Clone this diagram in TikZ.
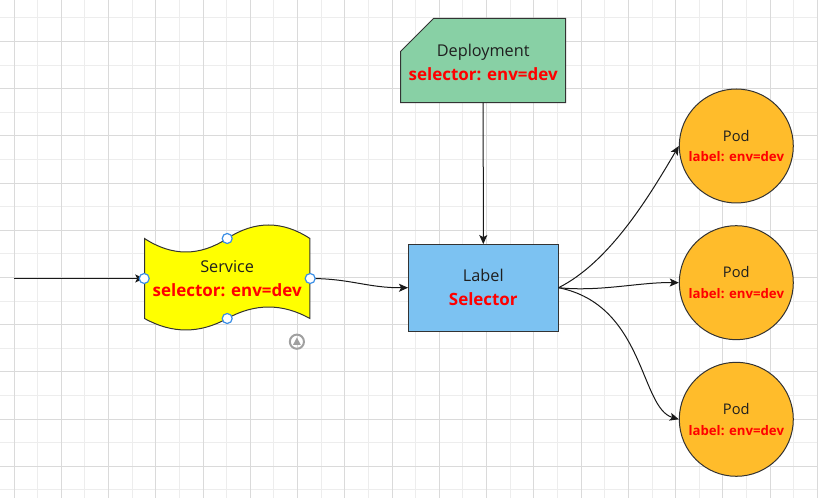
\documentclass[tikz,border=0pt]{standalone}
\usepackage{fontspec}
\setmainfont{Open Sans}
\usetikzlibrary{arrows.meta,calc}
\definecolor{gridminor}{HTML}{EDEDED}
\definecolor{gridmajor}{HTML}{DADADA}
\definecolor{outl}{HTML}{333333}
\definecolor{txtdark}{HTML}{1F1F1F}
\definecolor{depfill}{HTML}{88D0A5}
\definecolor{labfill}{HTML}{7CC2F2}
\definecolor{podfill}{HTML}{FFBC2B}
\definecolor{svcfill}{HTML}{FFFF00}
\definecolor{redtxt}{HTML}{FF0000}
\definecolor{handle}{HTML}{3A8EE6}
\definecolor{icongrey}{HTML}{A0A0A0}
\pgfdeclarelayer{gridlayer}
\pgfdeclarelayer{shapelayer}
\pgfsetlayers{gridlayer,shapelayer,main}
\newcommand{\redbold}[2]{\textcolor{redtxt}{\fontsize{#1}{18}\selectfont\bfseries #2}}
\begin{document}
\begin{tikzpicture}[x=0.75pt,y=-0.75pt,
  txt/.style={align=center,inner sep=0pt,text=txtdark},
  mainfont/.style={font=\fontsize{12.2}{18}\selectfont},
  podfont/.style={font=\fontsize{11}{15.5}\selectfont},
  boxshape/.style={draw=outl,line width=0.75pt},
  podshape/.style={circle,draw=outl,line width=0.75pt,fill=podfill,minimum size=85.5pt,inner sep=0pt,align=center,text=txtdark,podfont},
  arr/.style={draw=black!90,line width=0.75pt,-{Stealth[length=6.8pt,width=6pt,inset=1.6pt]}},
  hnd/.style={circle,draw=handle,fill=white,line width=0.9pt,minimum size=7.5pt,inner sep=0pt}
]
\useasboundingbox (0,0) rectangle (818,498);
\begin{pgfonlayer}{gridlayer}
  \fill[white] (0,0) rectangle (818,498);
  \foreach \i in {0,...,34}{
    \pgfmathsetmacro\xx{14+23.63*\i}
    \draw[gridminor,line width=0.75pt] (\xx,0) -- (\xx,498);
  }
  \foreach \j in {0,...,20}{
    \pgfmathsetmacro\yy{18+23.6*\j}
    \draw[gridminor,line width=0.75pt] (0,\yy) -- (818,\yy);
  }
  \foreach \i in {0,2,...,34}{
    \pgfmathsetmacro\xx{14+23.63*\i}
    \draw[gridmajor,line width=0.75pt] (\xx,0) -- (\xx,498);
  }
  \foreach \j in {1,3,...,19}{
    \pgfmathsetmacro\yy{18+23.6*\j}
    \draw[gridmajor,line width=0.75pt] (0,\yy) -- (818,\yy);
  }
\end{pgfonlayer}

% Deployment
\node[txt,mainfont,minimum width=123.75pt,minimum height=63.3pt] (dep) at (483.2,62)
  {Deployment\\\redbold{12.7}{selector: env=dev}};
% Label Selector
\node[txt,mainfont,minimum width=112.5pt,minimum height=65pt] (lab) at (483.3,287.7)
  {Label\\\redbold{12.7}{Selector}};
% Service
\node[txt,mainfont,minimum width=124.05pt,minimum height=60pt] (svc) at (227.2,278.5)
  {Service\\\redbold{12.7}{selector: env=dev}};
% Pods
\node[podshape] (pod1) at (736.3,146) {Pod\\\redbold{9.9}{label: env=dev}};
\node[podshape] (pod2) at (736.3,282.7) {Pod\\\redbold{9.9}{label: env=dev}};
\node[podshape] (pod3) at (736.3,419.3) {Pod\\\redbold{9.9}{label: env=dev}};

\begin{pgfonlayer}{shapelayer}
  \draw[boxshape,fill=depfill] (400.7,18.3) ++(33,0) -- (565.7,18.3) -- (565.7,102.7)
     -- (400.7,102.7) -- (400.7,51.3) -- cycle;
  \draw[boxshape,fill=labfill] (lab.north west) rectangle (lab.south east);
  \draw[boxshape,fill=svcfill] (144.5,238.5)
     .. controls (172.1,256.5) and (199.6,256.5) .. (227.2,238.5)
     .. controls (254.8,220.5) and (282.4,220.5) .. (309.9,238.5)
     -- (309.9,318.5)
     .. controls (282.4,303.2) and (254.8,303.2) .. (227.2,318.5)
     .. controls (199.6,333.8) and (172.1,333.8) .. (144.5,318.5)
     -- cycle;
\end{pgfonlayer}

% connectors
\coordinate (entry) at (14,278.5);
\coordinate (depbot) at (483.2,102.7);
\draw[arr] (entry) -- (svc.west);
\draw[arr] (svc.east) .. controls (350,278.5) and (368,288) .. (lab.west);
\draw[arr] (depbot) -- (lab.north);
\draw[arr] (lab.east) .. controls (610,262) and (650,195) .. (pod1.west);
\draw[arr] (lab.east) .. controls (600,292) and (640,282) .. (pod2.west);
\draw[arr] (lab.east) .. controls (645,305) and (640,408) .. (pod3.west);

% connection handles
\node[hnd] (h1) at (svc.west) {};
\node[hnd] (h2) at (svc.east) {};
\node[hnd] (h3) at (227.2,238.5) {};
\node[hnd] (h4) at (227.2,318.5) {};

% small icon
\draw[icongrey,line width=1.5pt] (296.9,341.7) circle[radius=5.3pt];
\fill[icongrey] (293.0,344.9) -- (300.8,344.9) -- (296.9,337.5) -- cycle;
\end{tikzpicture}
\end{document}
